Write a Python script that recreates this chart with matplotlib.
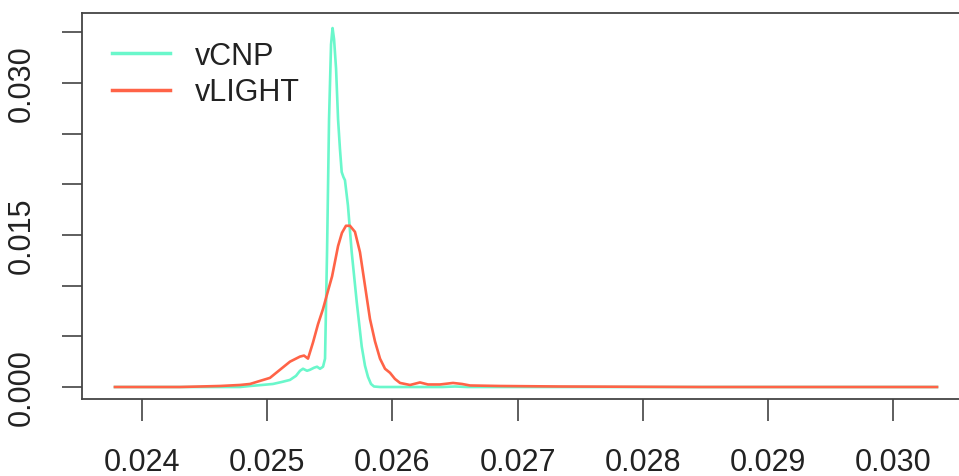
import numpy as np
import matplotlib.pyplot as plt

#density curves
x_cnp = [0.023784, 0.024463, 0.024783, 0.024863, 0.024958, 0.025046, 0.025118, 0.025182,
         0.025230, 0.025262, 0.025286, 0.025318, 0.025342, 0.025374, 0.025398, 0.025422,
         0.025446, 0.025462, 0.025478, 0.025494, 0.025510, 0.025522, 0.025534, 0.025550,
         0.025566, 0.025581, 0.025595, 0.025609, 0.025621, 0.025645, 0.025675, 0.025715,
         0.025755, 0.025781, 0.025805, 0.025829, 0.025853, 0.025901, 0.026400, 0.026500,
         0.026600, 0.030350]
y_cnp = [0.0, 0.0, 0.0, 0.0001, 0.0002, 0.0003, 0.0005, 0.0007,
         0.0011, 0.0016, 0.0018, 0.0016, 0.0017, 0.0019, 0.0020, 0.0018,
         0.0020, 0.0028, 0.0133, 0.0264, 0.0338, 0.0354, 0.0343, 0.0314,
         0.0264, 0.0235, 0.0212, 0.0207, 0.0204, 0.0179, 0.0133, 0.0084,
         0.0040, 0.0021, 0.0010, 0.0003, 0.00005, 0.0, 0.0, 0.00005,
         0.0, 0.0]

x_light = [0.023784, 0.024304, 0.024463, 0.024623, 0.024783, 0.024863, 0.024942, 0.025022,
           0.025102, 0.025182, 0.025262, 0.025294, 0.025326, 0.025366, 0.025406, 0.025446,
           0.025486, 0.025518, 0.025566, 0.025597, 0.025629, 0.025661, 0.025701, 0.025741,
           0.025781, 0.025821, 0.025861, 0.025901, 0.025941, 0.025981, 0.026020, 0.026061,
           0.026141, 0.026220, 0.026284, 0.026380, 0.026484, 0.026556, 0.026620, 0.026859,
           0.027339, 0.028457, 0.030350]
y_light = [0.0, 0.0, 0.00005, 0.0001, 0.0002, 0.0003, 0.0006, 0.0009,
           0.0017, 0.0025, 0.0030, 0.0031, 0.0028, 0.0044, 0.0062, 0.0077,
           0.0095, 0.0109, 0.0139, 0.0152, 0.0159, 0.0159, 0.0153, 0.0133,
           0.0100, 0.0067, 0.0045, 0.0028, 0.0018, 0.0014, 0.0008, 0.0004,
           0.0002, 0.00045, 0.00025, 0.00025, 0.0004, 0.0003, 0.00015, 0.0001,
           0.00005, 0.0, 0.0]

series_names = ['vCNP', 'vLIGHT']
series_colors = ['#6AF7CB', '#FF6347']

x_ticks = [0.024, 0.025, 0.026, 0.027, 0.028, 0.029, 0.030]
y_ticks = [0.0, 0.005, 0.010, 0.015, 0.020, 0.025, 0.030, 0.035]
y_labels = ['0.000', '', '', '0.015', '', '', '0.030', '']

plt.rcParams['font.family'] = ['Liberation Sans', 'DejaVu Sans']

fig = plt.figure(figsize=(9.59, 4.77), dpi=100)
#axes box runs a bit past the right edge of the image, like the original
ax = fig.add_axes([82 / 959, 77 / 477, 888 / 959, 386 / 477])

ax.plot(x_cnp, y_cnp, color=series_colors[0], lw=1.9, label=series_names[0])
ax.plot(x_light, y_light, color=series_colors[1], lw=1.9, label=series_names[1])

ax.set_xlim(0.0235208, 0.0306134)
ax.set_ylim(-0.001183, 0.036884)

ax.set_xticks(x_ticks)
ax.set_xticklabels(['%.3f' % t for t in x_ticks], fontsize=22, color='#222222')
ax.set_yticks(y_ticks)
ax.set_yticklabels(y_labels, fontsize=22, rotation=90, va='center', color='#222222')
ax.tick_params(axis='x', length=15.5, width=1.1, color='#333333', pad=19)
ax.tick_params(axis='y', length=14.5, width=1.1, color='#333333', pad=18)

for side in ['left', 'right', 'top', 'bottom']:
    ax.spines[side].set_color('#444444')
    ax.spines[side].set_linewidth(1.3)

leg = ax.legend(loc='upper left', frameon=False, fontsize=22, handlelength=1.9,
                handletextpad=0.8, borderaxespad=0.0, labelspacing=0.22,
                bbox_to_anchor=(0.02, 0.96))
for line in leg.get_lines():
    line.set_linewidth(2.5)
for t in leg.get_texts():
    t.set_color('#222222')

fig.savefig('out.png', dpi=100)
